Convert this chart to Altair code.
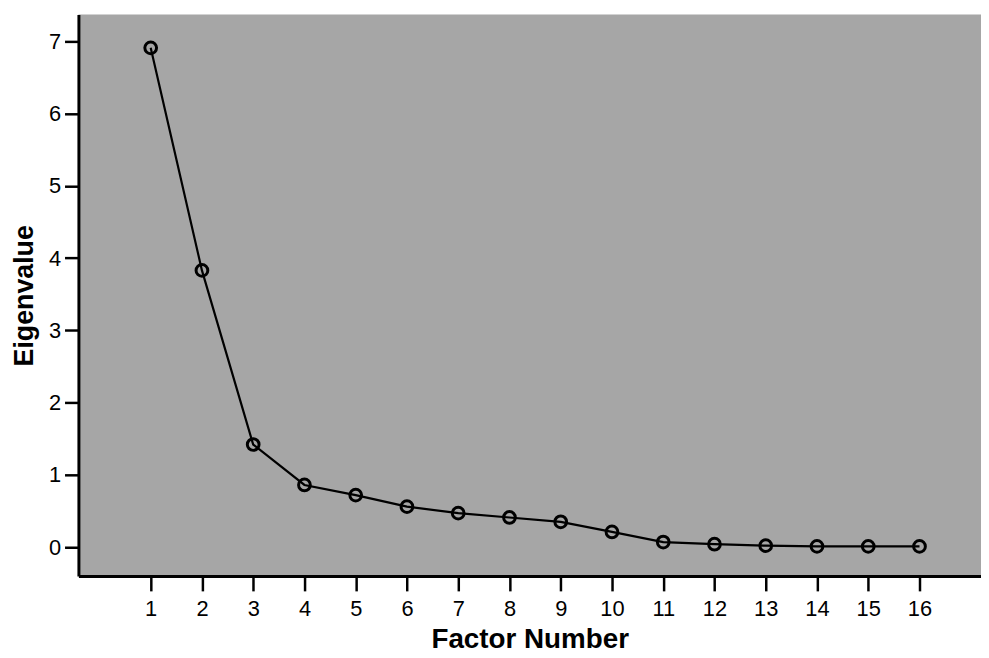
import altair as alt
import pandas as pd

factors = list(range(1, 17))
eigenvalues = [6.91, 3.83, 1.42, 0.86, 0.72, 0.56, 0.47, 0.41, 0.35, 0.21,
               0.07, 0.04, 0.02, 0.01, 0.01, 0.01]
x_ticks = list(range(1, 17))
y_ticks = list(range(0, 8))

df = pd.DataFrame({"Factor Number": factors, "Eigenvalue": eigenvalues})

FONT = "Liberation Sans"

x_enc = alt.X(
    "Factor Number:Q",
    scale=alt.Scale(domain=[-0.41, 17.2], nice=False, zero=False),
    axis=alt.Axis(
        values=x_ticks, grid=False, domainColor="black", domainWidth=3,
        tickColor="black", tickWidth=2.5, tickSize=15,
        labelFont=FONT, labelFontSize=22, labelColor="black", labelPadding=8,
        labelFlush=False,
        title="Factor Number", titleFont=FONT, titleFontSize=28,
        titleFontWeight="bold", titleColor="black", titlePadding=6,
    ),
)
y_enc = alt.Y(
    "Eigenvalue:Q",
    scale=alt.Scale(domain=[-0.4, 7.37], nice=False, zero=False),
    axis=alt.Axis(
        values=y_ticks, grid=False, domainColor="black", domainWidth=3,
        tickColor="black", tickWidth=2.5, tickSize=14,
        labelFont=FONT, labelFontSize=22, labelColor="black", labelPadding=4,
        labelFlush=False,
        title="Eigenvalue", titleFont=FONT, titleFontSize=27,
        titleFontWeight="bold", titleColor="black", titlePadding=10,
    ),
)

base = alt.Chart(df).encode(x=x_enc, y=y_enc)
line = base.mark_line(color="black", strokeWidth=2.2)
pts = base.mark_point(filled=False, color="black", strokeWidth=3, size=140, opacity=1)

chart = (line + pts).properties(
    width=910, height=566,
    padding={"left": 71, "top": 4, "right": 0, "bottom": 80},
    autosize=alt.AutoSizeParams(type="none"),
    background="white",
).configure_view(fill="#a6a6a6", stroke=None)

chart.save("out.html", embed_options={"renderer": "svg", "actions": False})
